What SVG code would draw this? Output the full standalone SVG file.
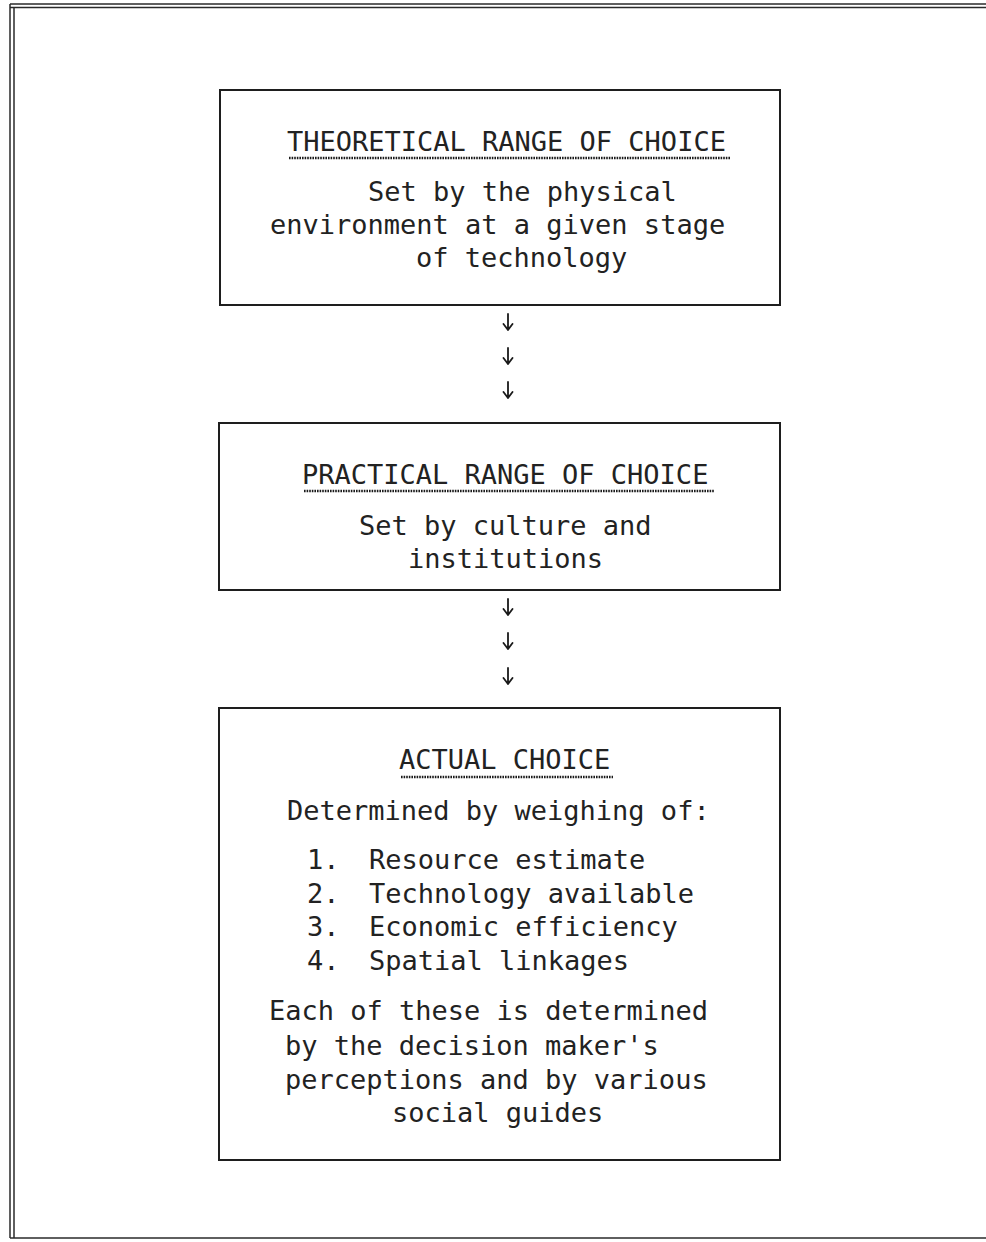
<svg xmlns="http://www.w3.org/2000/svg" width="986" height="1242" viewBox="0 0 986 1242">
  <style>
    .frame { fill: none; stroke: #2a2a2a; stroke-width: 1.5; }
    .box { fill: none; stroke: #1e1e1e; stroke-width: 2; }
    .txt { font-family: "DejaVu Sans Mono", "Liberation Mono", monospace; font-size: 27px; fill: #222222; }
    .uline { stroke: #1a1a1a; stroke-width: 2.4; stroke-dasharray: 1.6 1; }
    .arrow { fill: none; stroke: #1a1a1a; stroke-width: 1.8; stroke-linecap: round; stroke-linejoin: round; }
  </style>
  <rect width="986" height="1242" fill="#ffffff"/>

  <!-- page frame: double rule along top and left, single rule at bottom -->
  <g id="frame">
    <line class="frame" x1="10" y1="4" x2="986" y2="4"/>
    <line class="frame" x1="10" y1="7.5" x2="986" y2="7.5"/>
    <line class="frame" x1="10" y1="4" x2="10" y2="1238"/>
    <line class="frame" x1="14" y1="7.5" x2="14" y2="1238"/>
    <line class="frame" x1="10" y1="1238" x2="986" y2="1238"/>
  </g>

  <g id="node-theoretical">
    <rect class="box" x="220" y="90" width="560" height="215"/>
    <text class="txt" x="287" y="151">THEORETICAL RANGE OF CHOICE</text>
    <line class="uline" x1="289" y1="158" x2="731" y2="158"/>
    <text class="txt" x="368" y="201">Set by the physical</text>
    <text class="txt" x="270" y="234">environment at a given stage</text>
    <text class="txt" x="416" y="267">of technology</text>
  </g>

  <g id="node-practical">
    <rect class="box" x="219" y="423" width="561" height="167"/>
    <text class="txt" x="302" y="484">PRACTICAL RANGE OF CHOICE</text>
    <line class="uline" x1="304" y1="491" x2="714" y2="491"/>
    <text class="txt" x="359" y="535">Set by culture and</text>
    <text class="txt" x="408" y="568">institutions</text>
  </g>

  <g id="node-actual">
    <rect class="box" x="219" y="708" width="561" height="452"/>
    <text class="txt" x="399" y="769">ACTUAL CHOICE</text>
    <line class="uline" x1="401" y1="777" x2="613" y2="777"/>
    <text class="txt" x="287" y="820">Determined by weighing of:</text>
    <text class="txt" x="307" y="869">1.</text>
    <text class="txt" x="369" y="869">Resource estimate</text>
    <text class="txt" x="307" y="903">2.</text>
    <text class="txt" x="369" y="903">Technology available</text>
    <text class="txt" x="307" y="936">3.</text>
    <text class="txt" x="369" y="936">Economic efficiency</text>
    <text class="txt" x="307" y="970">4.</text>
    <text class="txt" x="369" y="970">Spatial linkages</text>
    <text class="txt" x="269" y="1020">Each of these is determined</text>
    <text class="txt" x="285" y="1055">by the decision maker's</text>
    <text class="txt" x="285" y="1089">perceptions and by various</text>
    <text class="txt" x="392" y="1122">social guides</text>
  </g>

  <!-- connectors: stacks of three small down-arrows between boxes -->
  <defs>
    <path id="down" d="M0,-8 V8 M-4.5,2 L0,8 L4.5,2"/>
  </defs>
  <g id="connectors" class="arrow">
    <use href="#down" x="508" y="322"/>
    <use href="#down" x="508" y="356"/>
    <use href="#down" x="508" y="390"/>
    <use href="#down" x="508" y="607"/>
    <use href="#down" x="508" y="641"/>
    <use href="#down" x="508" y="676"/>
  </g>
</svg>
